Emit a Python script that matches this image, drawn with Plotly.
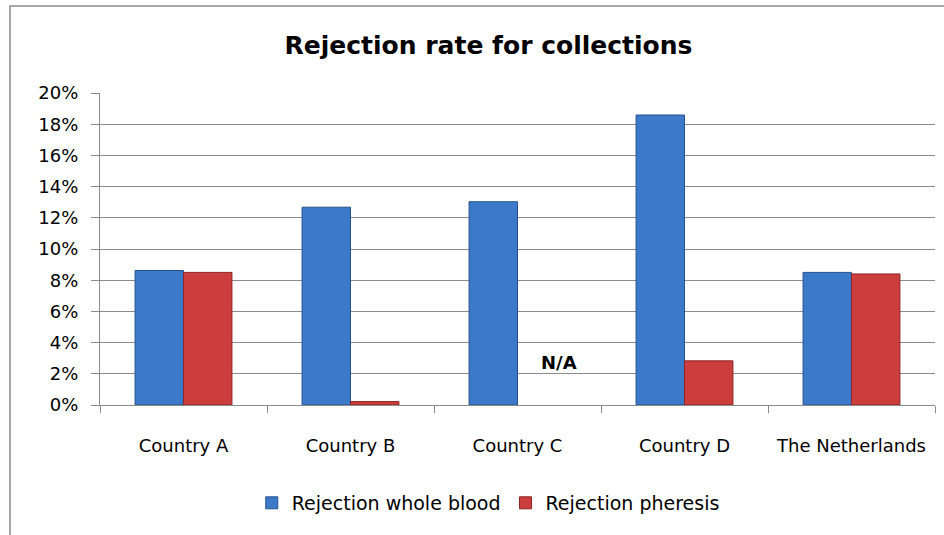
import plotly.graph_objects as go

categories = ["Country A", "Country B", "Country C", "Country D", "The Netherlands"]
whole_blood = [8.62, 12.68, 13.03, 18.59, 8.5]
pheresis = [8.5, 0.22, None, 2.83, 8.4]
series_names = ["Rejection whole blood", "Rejection pheresis"]
y_ticks = [0, 2, 4, 6, 8, 10, 12, 14, 16, 18, 20]
y_tick_labels = [f"{v}%" for v in y_ticks]
na_label = "N/A"

FONT = "DejaVu Sans"

fig = go.Figure()
fig.add_trace(go.Bar(
    x=categories, y=whole_blood, name=series_names[0],
    marker=dict(color="#3d79c9", line=dict(color="#25528f", width=1)),
))
fig.add_trace(go.Bar(
    x=categories, y=pheresis, name=series_names[1],
    marker=dict(color="#cc3d3d", line=dict(color="#8f2424", width=1)),
))

fig.add_annotation(
    x=categories[2], y=2.7, xref="x", yref="y", text="<b>" + na_label + "</b>",
    showarrow=False, xshift=41, font=dict(family=FONT, size=18, color="#000000"),
)

fig.add_shape(type="rect", xref="paper", yref="paper",
              x0=-0.1078, x1=1.2, y0=-0.5, y1=1.279,
              line=dict(color="#8c8c8c", width=1.5), fillcolor="rgba(0,0,0,0)", layer="below")

fig.update_layout(
    width=944, height=535,
    margin=dict(l=100, r=9, t=93, b=130),
    paper_bgcolor="white", plot_bgcolor="white",
    bargap=0.42, bargroupgap=0,
    title=dict(text="<b>Rejection rate for collections</b>", x=0.5175, xanchor="center",
               y=1 - 45 / 535, yanchor="middle", yref="container",
               font=dict(family=FONT, size=25, color="#000000")),
    font=dict(family=FONT, size=18, color="#000000"),
    showlegend=True,
    legend=dict(orientation="h", x=0.465, xanchor="center", y=-0.314, yanchor="middle",
                font=dict(family=FONT, size=19, color="#000000"), traceorder="normal",
                itemwidth=30),
)
fig.update_yaxes(
    range=[0, 20], tickvals=y_ticks, ticktext=y_tick_labels,
    showgrid=True, gridcolor="#8c8c8c", gridwidth=1.2,
    showline=True, linecolor="#8c8c8c", linewidth=1.2,
    ticks="outside", ticklen=8, tickcolor="#8c8c8c",
    ticklabelstandoff=9,
    zeroline=False, tickfont=dict(family=FONT, size=18, color="#000000"),
)
fig.update_xaxes(
    showline=True, linecolor="#8c8c8c", linewidth=1.2,
    ticks="outside", tickson="boundaries", ticklen=7, tickcolor="#8c8c8c",
    ticklabelstandoff=24,
    tickfont=dict(family=FONT, size=18, color="#000000"),
)

fig.write_html("out.html", config={"displayModeBar": False},
               post_script="document.body.style.margin='0';")
